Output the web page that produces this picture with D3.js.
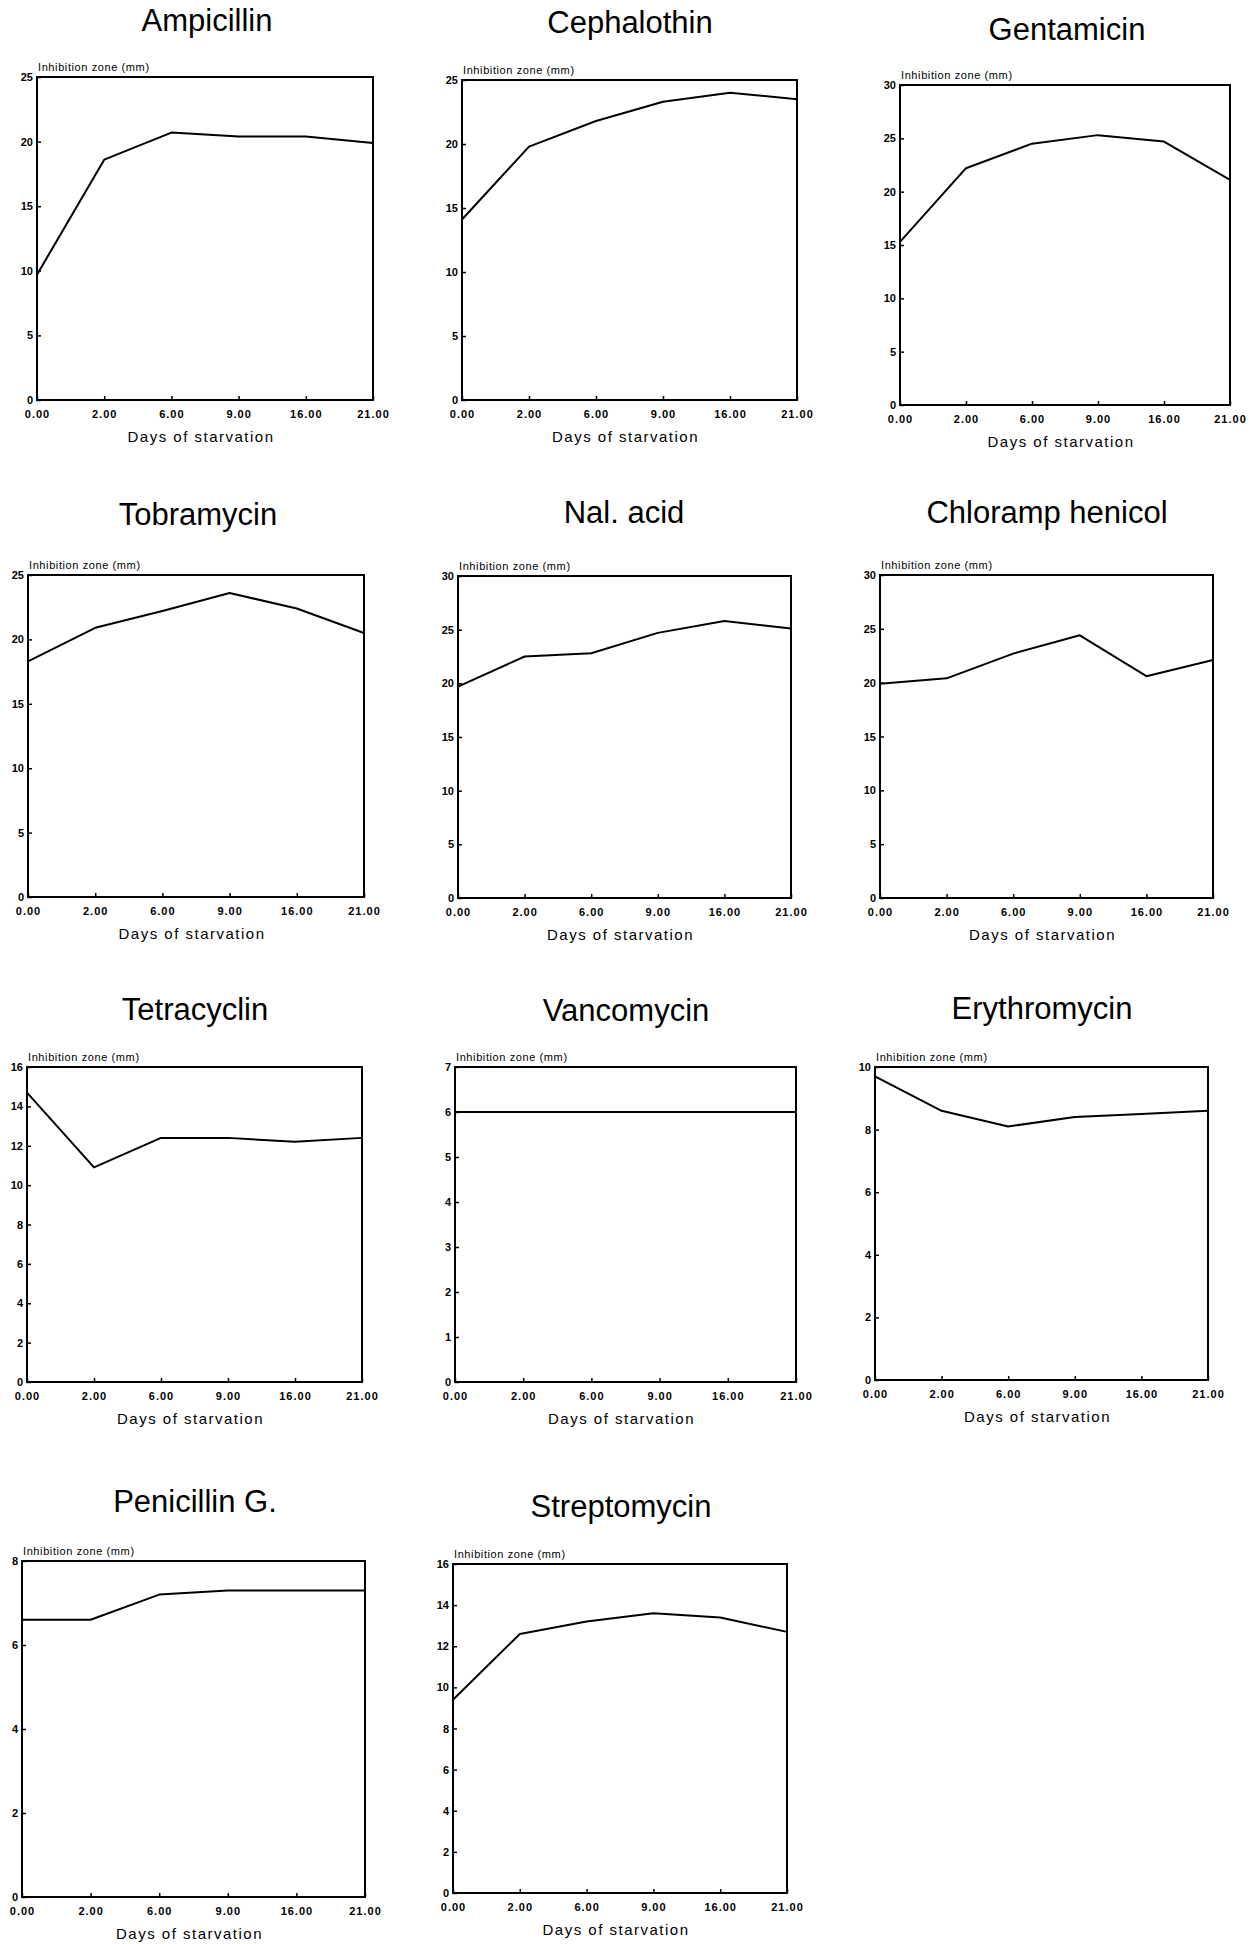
<html>
  <head>
    <meta charset="utf-8">
    <title>Inhibition zone vs days of starvation</title>
    <script src="https://d3js.org/d3.v7.min.js"></script>
    <style type="text/css">
      body {
        margin: 0;
        background: #fff;
      }
      svg {
        display: block;
        font-family: "Liberation Sans", Arial, Helvetica, sans-serif;
      }
      .title {
        font-size: 31px;
        text-anchor: middle;
      }
      .ylab {
        font-size: 11px;
        letter-spacing: 0.6px;
      }
      .xlab {
        font-size: 15px;
        letter-spacing: 1.5px;
        text-anchor: middle;
      }
      .box {
        fill: none;
        stroke: #000;
        stroke-width: 2px;
      }
      .line {
        fill: none;
        stroke: #000;
        stroke-width: 2px;
        stroke-linejoin: round;
      }
      .tick text {
        font-size: 11px;
        font-weight: bold;
        fill: #000;
      }
      .tick line {
        stroke: #000;
        stroke-width: 1.5px;
      }
    </style>
  </head>
  <body>
    <div id="chart"></div>
  </body>
</html>
<script type="text/javascript">
  const width = 1250,
    height = 1944;

  // data (inhibition zone in mm)
  const days = ["0.00", "2.00", "6.00", "9.00", "16.00", "21.00"];
  const drugs = ["Ampicillin", "Cephalothin", "Gentamicin", "Tobramycin", "Nal. acid", "Chloramp henicol",
    "Tetracyclin", "Vancomycin", "Erythromycin", "Penicillin G.", "Streptomycin"];
  const ampicillin = [9.7, 18.6, 20.7, 20.4, 20.4, 19.9];
  const cephalothin = [14.1, 19.8, 21.8, 23.3, 24.0, 23.5];
  const gentamicin = [15.3, 22.2, 24.5, 25.3, 24.7, 21.1];
  const tobramycin = [18.3, 20.9, 22.2, 23.6, 22.4, 20.5];
  const nalAcid = [19.7, 22.5, 22.8, 24.7, 25.8, 25.1];
  const chloramphenicol = [19.9, 20.4, 22.7, 24.4, 20.6, 22.1];
  const tetracyclin = [14.7, 10.9, 12.4, 12.4, 12.2, 12.4];
  const vancomycin = [6, 6, 6, 6, 6, 6];
  const erythromycin = [9.7, 8.6, 8.1, 8.4, 8.5, 8.6];
  const penicillinG = [6.6, 6.6, 7.2, 7.3, 7.3, 7.3];
  const streptomycin = [9.4, 12.6, 13.2, 13.6, 13.4, 12.7];
  const series = [ampicillin, cephalothin, gentamicin, tobramycin, nalAcid, chloramphenicol,
    tetracyclin, vancomycin, erythromycin, penicillinG, streptomycin];
  const yMax = [25, 25, 30, 25, 30, 30, 16, 7, 10, 8, 16];
  const yStep = [5, 5, 5, 5, 5, 5, 2, 1, 2, 2, 2];

  // layout: plot box of each panel [left, top, right, bottom] and title position
  const boxes = [
    [37, 77, 373, 400], [462, 80, 797, 400], [900, 85, 1230, 405],
    [28, 575, 364, 897], [458, 576, 791, 898], [880, 575, 1213, 898],
    [27, 1067, 362, 1382], [455, 1067, 796, 1382], [875, 1067, 1208, 1380],
    [22, 1561, 365, 1897], [453, 1564, 787, 1893]
  ];
  const titlePos = [
    [207, 31], [630, 33], [1067, 40],
    [198, 525], [624, 523], [1047, 523],
    [195, 1020], [626, 1021], [1042, 1019],
    [195, 1512], [621, 1517]
  ];

  const svg = d3.select("#chart").append("svg")
    .attr("width", width)
    .attr("height", height);

  drugs.forEach(function(name, i) {
    const b = boxes[i],
      w = b[2] - b[0],
      h = b[3] - b[1];

    svg.append("text")
      .attr("class", "title")
      .attr("x", titlePos[i][0])
      .attr("y", titlePos[i][1])
      .text(name);

    const g = svg.append("g")
      .attr("transform", "translate(" + b[0] + "," + b[1] + ")");

    const x = d3.scalePoint()
      .domain(days)
      .range([0, w]);

    const y = d3.scaleLinear()
      .domain([0, yMax[i]])
      .range([h, 0]);

    g.append("g")
      .attr("transform", "translate(0," + h + ")")
      .call(d3.axisBottom(x).tickSize(-4).tickPadding(10))
      .call(function(a) { a.select(".domain").remove(); })
      .selectAll("text")
        .style("letter-spacing", "1px");

    g.append("g")
      .call(d3.axisLeft(y).tickValues(d3.range(0, yMax[i] + 0.001, yStep[i])).tickSize(-4).tickPadding(4).tickFormat(d3.format("d")))
      .call(function(a) { a.select(".domain").remove(); });

    g.append("rect")
      .attr("class", "box")
      .attr("width", w)
      .attr("height", h);

    g.append("text")
      .attr("class", "ylab")
      .attr("x", 1)
      .attr("y", -6)
      .text("Inhibition zone (mm)");

    g.append("text")
      .attr("class", "xlab")
      .attr("x", w / 2 - 4)
      .attr("y", h + 42)
      .text("Days of starvation");

    const line = d3.line()
      .x(function(d, j) { return x(days[j]); })
      .y(function(d) { return y(d); });

    g.append("path")
      .datum(series[i])
      .attr("class", "line")
      .attr("d", line);
  });
</script>
